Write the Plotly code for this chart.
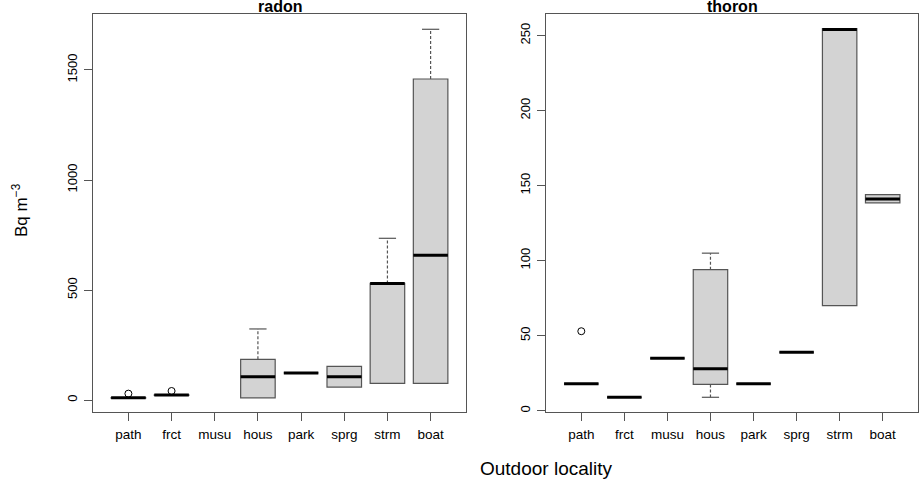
import plotly.graph_objects as go
from plotly.subplots import make_subplots

categories = ["path", "frct", "musu", "hous", "park", "sprg", "strm", "boat"]

# radon (Bq m-3); musu has no radon data
radon_q1 = [8, 21, None, 10, 123, 59, 76, 76]
radon_med = [10, 23, None, 106, 123, 106, 529, 658]
radon_q3 = [11, 24, None, 185, 123, 153, 530, 1459]
radon_lo = [8, 21, None, 10, 123, 59, 76, 76]
radon_hi = [11, 24, None, 323, 123, 153, 735, 1685]
radon_out_cat = ["path", "frct"]
radon_out_val = [29, 41]
radon_ticks = [0, 500, 1000, 1500]

# thoron (Bq m-3)
thoron_q1 = [18, 9, 35, 17.6, 18, 39, 70, 138.5]
thoron_med = [18, 9, 35, 28, 18, 39, 254, 141]
thoron_q3 = [18, 9, 35, 94, 18, 39, 254.5, 144]
thoron_lo = [18, 9, 35, 9, 18, 39, 70, 138.5]
thoron_hi = [18, 9, 35, 105, 18, 39, 254.5, 144]
thoron_out_cat = ["path"]
thoron_out_val = [53]
thoron_ticks = [0, 50, 100, 150, 200, 250]

BOX_W = 0.8
FONT = "Liberation Sans, Arial, sans-serif"
AXIS_COL = "#555555"


def add_panel(fig, col, q1, med, q3, lo, hi, out_cat, out_val):
    pos = {c: i + 1 for i, c in enumerate(categories)}
    keep = [i for i in range(len(categories)) if med[i] is not None]
    xs = [i + 1 for i in keep]

    # boxes without whiskers (whiskers drawn dashed below)
    fig.add_trace(go.Box(
        x=xs,
        q1=[q1[i] for i in keep],
        median=[med[i] for i in keep],
        q3=[q3[i] for i in keep],
        lowerfence=[q1[i] for i in keep],
        upperfence=[q3[i] for i in keep],
        width=BOX_W,
        fillcolor="#D3D3D3",
        line=dict(color=AXIS_COL, width=1.2),
        boxpoints=False,
        hoverinfo="skip",
        showlegend=False,
    ), row=1, col=col)

    wx, wy, cx, cy = [], [], [], []
    for i in keep:
        p = i + 1
        if hi[i] > q3[i]:
            wx += [p, p, None]
            wy += [q3[i], hi[i], None]
            cx += [p - BOX_W / 4, p + BOX_W / 4, None]
            cy += [hi[i], hi[i], None]
        if lo[i] < q1[i]:
            wx += [p, p, None]
            wy += [q1[i], lo[i], None]
            cx += [p - BOX_W / 4, p + BOX_W / 4, None]
            cy += [lo[i], lo[i], None]
    fig.add_trace(go.Scatter(x=wx, y=wy, mode="lines",
                             line=dict(color=AXIS_COL, width=1.2, dash="3px,2px"),
                             hoverinfo="skip", showlegend=False), row=1, col=col)
    fig.add_trace(go.Scatter(x=cx, y=cy, mode="lines",
                             line=dict(color=AXIS_COL, width=1.2),
                             hoverinfo="skip", showlegend=False), row=1, col=col)

    mx, my = [], []
    for i in keep:
        p = i + 1
        mx += [p - BOX_W / 2, p + BOX_W / 2, None]
        my += [med[i], med[i], None]
    fig.add_trace(go.Scatter(x=mx, y=my, mode="lines",
                             line=dict(color="black", width=3),
                             hoverinfo="skip", showlegend=False), row=1, col=col)

    fig.add_trace(go.Scatter(x=[pos[c] for c in out_cat], y=out_val, mode="markers",
                             marker=dict(symbol="circle-open", size=7, color="black",
                                         line=dict(width=1)),
                             hoverinfo="skip", showlegend=False), row=1, col=col)


fig = make_subplots(rows=1, cols=2)
add_panel(fig, 1, radon_q1, radon_med, radon_q3, radon_lo, radon_hi,
          radon_out_cat, radon_out_val)
add_panel(fig, 2, thoron_q1, thoron_med, thoron_q3, thoron_lo, thoron_hi,
          thoron_out_cat, thoron_out_val)

xcommon = dict(range=[0.18, 8.82], tickvals=list(range(1, len(categories) + 1)),
               ticktext=categories, showgrid=False, zeroline=False,
               showline=True, mirror=True, linecolor=AXIS_COL, linewidth=1,
               ticks="outside", ticklen=8, tickcolor=AXIS_COL,
               ticklabelstandoff=2,
               tickfont=dict(size=13.5, color="black", family=FONT))
ycommon = dict(showgrid=False, zeroline=False, showline=True, mirror=True,
               linecolor=AXIS_COL, linewidth=1, ticks="outside", ticklen=8,
               tickcolor=AXIS_COL, tickangle=-90, ticklabelstandoff=2,
               tickfont=dict(size=13, color="black", family=FONT))

ydom = [1 - 412 / 482, 1 - 14 / 482]
fig.update_xaxes(domain=[93 / 920, 466 / 920], row=1, col=1, **xcommon)
fig.update_xaxes(domain=[546 / 920, 918 / 920], row=1, col=2, **xcommon)
fig.update_yaxes(domain=ydom, range=[-54.5, 1754.5], tickvals=radon_ticks,
                 row=1, col=1, **ycommon)
fig.update_yaxes(domain=ydom, range=[-0.8, 264.3], tickvals=thoron_ticks,
                 row=1, col=2, **ycommon)

fig.update_layout(
    width=920, height=482,
    margin=dict(l=0, r=0, t=0, b=0),
    paper_bgcolor="white", plot_bgcolor="white",
    font=dict(family=FONT, color="black"),
    annotations=[
        dict(text="<b>radon</b>", x=(93 + 466) / 2 / 920, y=1 - 17 / 482,
             xref="paper", yref="paper", showarrow=False,
             font=dict(size=16), xanchor="center", yanchor="bottom"),
        dict(text="<b>thoron</b>", x=(546 + 918) / 2 / 920, y=1 - 17 / 482,
             xref="paper", yref="paper", showarrow=False,
             font=dict(size=16), xanchor="center", yanchor="bottom"),
        dict(text="Outdoor locality", x=546 / 920, y=1 - 468 / 482,
             xref="paper", yref="paper", showarrow=False,
             font=dict(size=19), xanchor="center", yanchor="middle"),
        dict(text="Bq m<sup>\u22123</sup>", x=20 / 920, y=1 - 210 / 482,
             xref="paper", yref="paper", showarrow=False, textangle=-90,
             font=dict(size=17), xanchor="center", yanchor="middle"),
    ],
)

# drop the browser's default body margin so the figure fills the window
fig.write_html("out.html", config={"displayModeBar": False},
               post_script="document.body.style.margin='0';")
